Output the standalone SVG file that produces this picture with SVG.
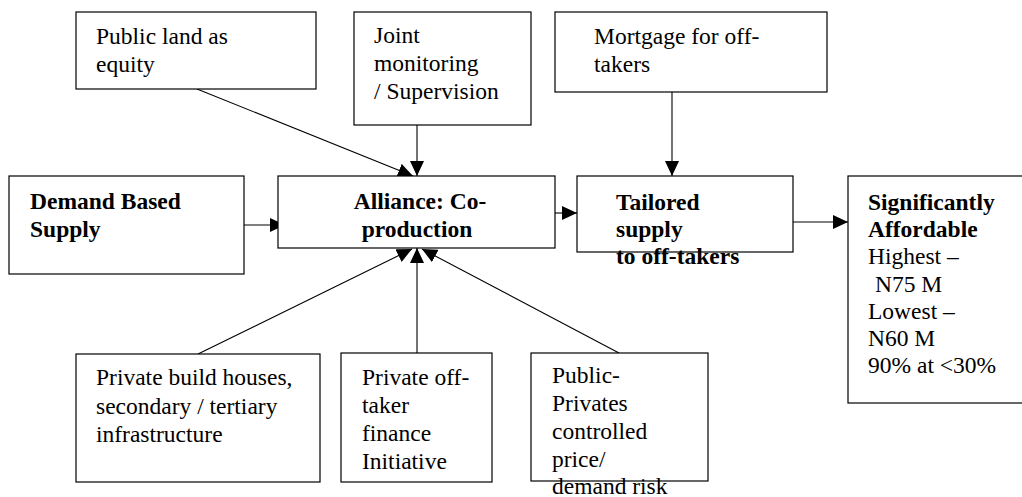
<svg xmlns="http://www.w3.org/2000/svg" width="1022" height="497" viewBox="0 0 1022 497">
<style>
.box{fill:#fff;stroke:#000;stroke-width:1.2}
.t{font-family:'Liberation Serif','Times New Roman',serif;font-size:23.5px;fill:#000}
.b{font-weight:bold}
.c{stroke:#000;stroke-width:1.1;fill:none;marker-end:url(#ah)}
</style>
<defs>
<marker id="ah" markerUnits="userSpaceOnUse" markerWidth="16" markerHeight="14" refX="15" refY="7" orient="auto">
<path d="M0,0 L15,7 L0,14 z" fill="#000"/>
</marker>
</defs>
<rect width="1022" height="497" fill="#fff"/>
<g id="connectors">
<line class="c" x1="197" y1="89" x2="413" y2="176"/>
<line class="c" x1="417" y1="125" x2="417" y2="176"/>
<line class="c" x1="672" y1="92" x2="672" y2="176"/>
<line class="c" x1="244" y1="225" x2="285" y2="225"/>
<line class="c" x1="555" y1="213" x2="577" y2="213"/>
<line class="c" x1="793" y1="222" x2="848" y2="222"/>
<line class="c" x1="198" y1="354" x2="412" y2="249"/>
<line class="c" x1="417" y1="353" x2="417" y2="248"/>
<line class="c" x1="619" y1="353" x2="422" y2="249"/>
</g>
<g id="public-land">
<rect class="box" x="76" y="12" width="240" height="77"/>
<text class="t" font-family="Liberation Serif"><tspan x="96" y="44">Public land as</tspan><tspan x="96" y="71.5">equity</tspan></text>
</g>
<g id="joint-monitoring">
<rect class="box" x="354" y="12" width="177" height="113"/>
<text class="t" font-family="Liberation Serif"><tspan x="374" y="43">Joint</tspan><tspan x="374" y="71">monitoring</tspan><tspan x="374" y="99">/ Supervision</tspan></text>
</g>
<g id="mortgage">
<rect class="box" x="555" y="12" width="272" height="80"/>
<text class="t" font-family="Liberation Serif"><tspan x="594" y="44">Mortgage for off-</tspan><tspan x="594" y="71.5">takers</tspan></text>
</g>
<g id="demand">
<rect class="box" x="9" y="176" width="235" height="98"/>
<text class="t b" font-family="Liberation Serif"><tspan x="30" y="209">Demand Based</tspan><tspan x="30" y="237">Supply</tspan></text>
</g>
<g id="alliance">
<rect class="box" x="278" y="176" width="277" height="72"/>
<text class="t b" font-family="Liberation Serif" text-anchor="middle"><tspan x="420" y="209">Alliance: Co-</tspan><tspan x="417" y="237">production</tspan></text>
</g>
<g id="tailored">
<rect class="box" x="577" y="176" width="216" height="76"/>
<text class="t b" font-family="Liberation Serif"><tspan x="616" y="210">Tailored</tspan><tspan x="616" y="237">supply</tspan><tspan x="616" y="263.5">to off-takers</tspan></text>
</g>
<g id="affordable">
<rect class="box" x="848" y="176" width="190" height="227"/>
<text class="t" font-family="Liberation Serif"><tspan class="b" x="868" y="210">Significantly</tspan><tspan class="b" x="868" y="237.2">Affordable</tspan><tspan x="868" y="264.4">Highest –</tspan><tspan x="875" y="291.6">N75 M</tspan><tspan x="868" y="318.8">Lowest –</tspan><tspan x="868" y="346">N60 M</tspan><tspan x="868" y="373.2">90% at &lt;30%</tspan></text>
</g>
<g id="private-build">
<rect class="box" x="76" y="354" width="244" height="128"/>
<text class="t" font-family="Liberation Serif"><tspan x="96" y="385">Private build houses,</tspan><tspan x="96" y="413.5">secondary / tertiary</tspan><tspan x="96" y="442">infrastructure</tspan></text>
</g>
<g id="private-offtaker">
<rect class="box" x="341" y="353" width="151" height="129"/>
<text class="t" font-family="Liberation Serif"><tspan x="362" y="385">Private off-</tspan><tspan x="362" y="413">taker</tspan><tspan x="362" y="441">finance</tspan><tspan x="362" y="468.5">Initiative</tspan></text>
</g>
<g id="public-privates">
<rect class="box" x="531" y="353" width="177" height="128"/>
<text class="t" font-family="Liberation Serif"><tspan x="552" y="383">Public-</tspan><tspan x="552" y="411">Privates</tspan><tspan x="552" y="439">controlled</tspan><tspan x="552" y="466.5">price/</tspan><tspan x="552" y="493.5">demand risk</tspan></text>
</g>
</svg>
